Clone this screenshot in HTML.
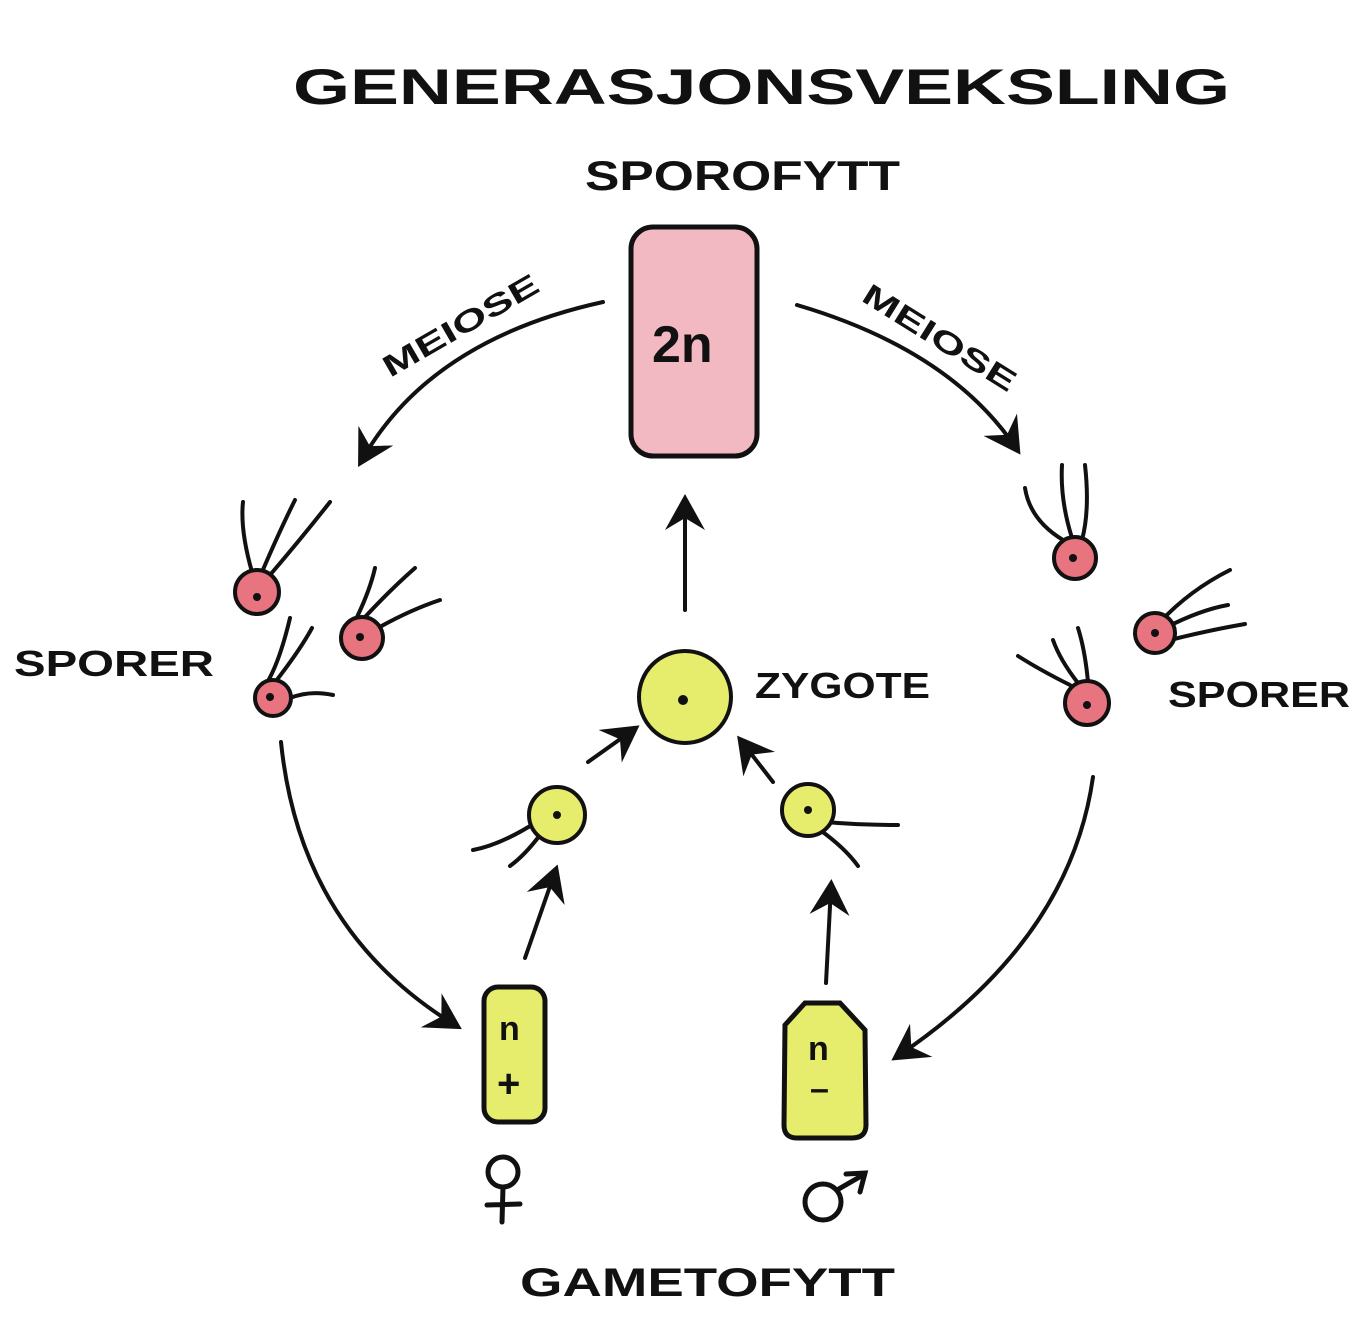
<!DOCTYPE html>
<html><head><meta charset="utf-8"><style>
html,body{margin:0;padding:0;background:#fff;}
svg{display:block}
text{font-family:"Liberation Sans",sans-serif;font-weight:bold;fill:#111}
</style></head><body>
<svg width="1363" height="1343" viewBox="0 0 1363 1343" xmlns="http://www.w3.org/2000/svg">
<defs>
<marker id="ah" markerWidth="10" markerHeight="10" refX="7" refY="5" orient="auto" markerUnits="strokeWidth">
<path d="M0,0 L9,5 L0,10 L3,5 Z" fill="#111"/>
</marker>
</defs>
<rect width="1363" height="1343" fill="#fff"/>
<text x="293" y="104" font-size="50" textLength="937" lengthAdjust="spacingAndGlyphs">GENERASJONSVEKSLING</text>
<text x="585" y="190" font-size="42" textLength="315" lengthAdjust="spacingAndGlyphs">SPOROFYTT</text>

<g fill="none" stroke="#111" stroke-width="4" stroke-linecap="round">
<rect x="631" y="227" width="126" height="229" rx="22" fill="#f2b9c2" stroke-width="5"/>
<path d="M603,302 Q430,340 362,460" marker-end="url(#ah)"/>
<path d="M797,305 Q950,350 1016,448" marker-end="url(#ah)"/>
<path d="M685,610 L685,502" marker-end="url(#ah)"/>
<path d="M588,762 L633,730" marker-end="url(#ah)"/>
<path d="M773,782 L742,742" marker-end="url(#ah)"/>
<path d="M525,958 L555,872" marker-end="url(#ah)"/>
<path d="M826,983 L831,887" marker-end="url(#ah)"/>
<path d="M281,742 Q300,930 455,1025" marker-end="url(#ah)"/>
<path d="M1093,777 Q1070,940 898,1056" marker-end="url(#ah)"/>
<path d="M252,572 Q240,530 243,502 M262,572 Q280,530 295,500 M270,575 Q300,540 330,502"/>
<path d="M357,617 Q370,590 375,568 M365,617 Q390,590 415,568 M378,628 Q410,610 440,600"/>
<path d="M268,681 Q280,660 290,618 M276,681 Q300,650 312,628 M290,698 Q310,690 333,695"/>
<path d="M1063,540 Q1030,520 1025,488 M1072,538 Q1060,500 1062,465 M1082,540 Q1090,510 1085,465"/>
<path d="M1160,622 Q1190,590 1230,570 M1165,628 Q1200,610 1228,605 M1170,640 Q1210,630 1245,624"/>
<path d="M1070,685 Q1040,670 1018,656 M1078,683 Q1060,660 1053,640 M1088,682 Q1085,650 1078,628"/>
<path d="M535,823 Q500,845 473,850 M540,835 Q525,855 510,866"/>
<path d="M825,822 Q860,825 898,825 M820,830 Q845,848 858,866"/>
<!-- female symbol -->
<circle cx="503" cy="1172" r="15" stroke-width="5"/>
<path d="M503,1187 L502,1222 M487,1205 L520,1204" stroke-width="5"/>
<!-- male symbol -->
<circle cx="823" cy="1202" r="18" stroke-width="5"/>
<path d="M837,1190 L863,1175 M846,1174 L865,1173 L860,1192" stroke-width="5"/>
</g>
<g stroke="#111" stroke-width="4" fill="#e8747f">
<circle cx="257" cy="592" r="22"/>
<circle cx="362" cy="638" r="21"/>
<circle cx="273" cy="698" r="18"/>
<circle cx="1075" cy="558" r="21"/>
<circle cx="1155" cy="633" r="20"/>
<circle cx="1087" cy="703" r="22"/>
</g>
<g stroke="#111" stroke-width="4" fill="#e6ec6c">
<circle cx="685" cy="697" r="46"/>
<circle cx="557" cy="815" r="28"/>
<circle cx="808" cy="810" r="26"/>
<rect x="484" y="987" width="61" height="135" rx="14" stroke-width="5"/>
<path d="M785,1025 L805,1003 L840,1003 L865,1030 L866,1125 Q866,1138 852,1138 L797,1138 Q784,1138 784,1125 Z" stroke-width="5"/>
</g>
<g fill="#111">
<circle cx="257" cy="597" r="4"/><circle cx="360" cy="637" r="4"/><circle cx="270" cy="697" r="4"/>
<circle cx="1073" cy="558" r="4"/><circle cx="1155" cy="633" r="4"/><circle cx="1087" cy="705" r="4"/>
<circle cx="683" cy="700" r="5"/><circle cx="557" cy="815" r="4"/><circle cx="808" cy="810" r="4"/>
</g>
<text x="652" y="362" font-size="52">2n</text>
<text x="0" y="0" font-size="30" textLength="175" lengthAdjust="spacingAndGlyphs" transform="translate(390,378) rotate(-30)">MEIOSE</text>
<text x="0" y="0" font-size="30" textLength="175" lengthAdjust="spacingAndGlyphs" transform="translate(860,300) rotate(32)">MEIOSE</text>
<text x="14" y="676" font-size="36" textLength="200" lengthAdjust="spacingAndGlyphs">SPORER</text>
<text x="1168" y="707" font-size="36" textLength="182" lengthAdjust="spacingAndGlyphs">SPORER</text>
<text x="755" y="698" font-size="36" textLength="175" lengthAdjust="spacingAndGlyphs">ZYGOTE</text>
<text x="499" y="1040" font-size="34">n</text>
<text x="497" y="1097" font-size="40">+</text>
<text x="808" y="1060" font-size="34">n</text>
<text x="810" y="1100" font-size="34">–</text>
<text x="520" y="1296" font-size="40" textLength="375" lengthAdjust="spacingAndGlyphs">GAMETOFYTT</text>
</svg>
</body></html>
